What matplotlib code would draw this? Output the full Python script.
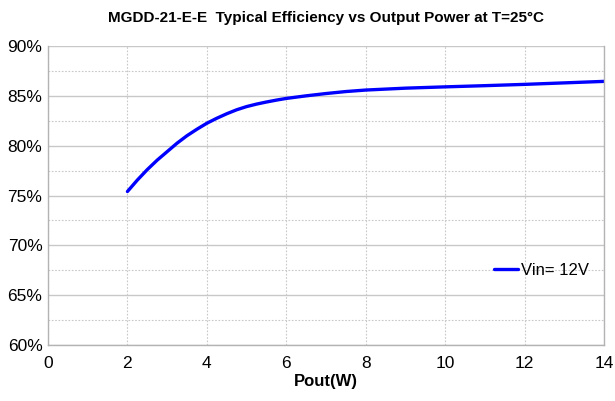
import matplotlib
matplotlib.use("Agg")
import matplotlib.pyplot as plt
from matplotlib.ticker import MultipleLocator, FuncFormatter

plt.rcParams['font.family'] = ['Liberation Sans', 'DejaVu Sans']

pout = [2, 2.25, 2.5, 2.75, 3, 3.25, 3.5, 3.75, 4, 4.25, 4.5, 4.75, 5, 5.25, 5.5,
        5.75, 6, 6.5, 7, 7.5, 8, 9, 10, 11, 12, 13, 14]
eff = [75.4, 76.55, 77.6, 78.55, 79.4, 80.25, 81.0, 81.65, 82.25, 82.75, 83.2, 83.6,
       83.92, 84.17, 84.38, 84.57, 84.74, 85.0, 85.23, 85.43, 85.58, 85.77, 85.9,
       86.02, 86.15, 86.3, 86.45]
series_label = "Vin= 12V"
title = "MGDD-21-E-E  Typical Efficiency vs Output Power at T=25°C"
xlabel = "Pout(W)"

fig = plt.figure(figsize=(6.15, 4.01), dpi=100)
ax = fig.add_axes([48/615, 1-345/401, (604-48)/615, (345-46)/401])

ax.plot(pout, eff, color='#0000ff', lw=2.4, label=series_label,
        solid_capstyle='round', solid_joinstyle='round')

ax.set_xlim(0, 14)
ax.set_ylim(60, 90)
ax.xaxis.set_major_locator(MultipleLocator(2))
ax.yaxis.set_major_locator(MultipleLocator(5))
ax.yaxis.set_minor_locator(MultipleLocator(2.5))
ax.yaxis.set_major_formatter(FuncFormatter(lambda v, p: f"{v:.0f}%"))

ax.grid(axis='y', which='major', color='#c8c8c8', lw=1.0, ls='-')
ax.grid(axis='y', which='minor', color='#c8c8c8', lw=0.8, ls=(0, (1.5, 1.5)))
ax.grid(axis='x', which='major', color='#c8c8c8', lw=0.8, ls=(0, (1.5, 1.5)))
ax.set_axisbelow(True)

for s in ['left', 'bottom', 'right']:
    ax.spines[s].set_color('#b3b3b3')
    ax.spines[s].set_linewidth(1.0)
ax.spines['top'].set_visible(False)

ax.tick_params(axis='both', which='both', length=0, labelsize=12.5, colors='#000000')
ax.tick_params(axis='y', pad=4)
ax.tick_params(axis='x', pad=8)

ax.set_xlabel(xlabel, fontsize=12, fontweight='bold', labelpad=2)
fig.text(0.5 * (48 + 604) / 615, 1 - 18/401, title, ha='center', va='center',
         fontsize=11, fontweight='bold')

leg = ax.legend(loc='center right', bbox_to_anchor=(1.0, 0.25), frameon=False,
                fontsize=12, handlelength=1.4, handletextpad=0.2, borderaxespad=0.5)

fig.savefig("out.png", dpi=100)
